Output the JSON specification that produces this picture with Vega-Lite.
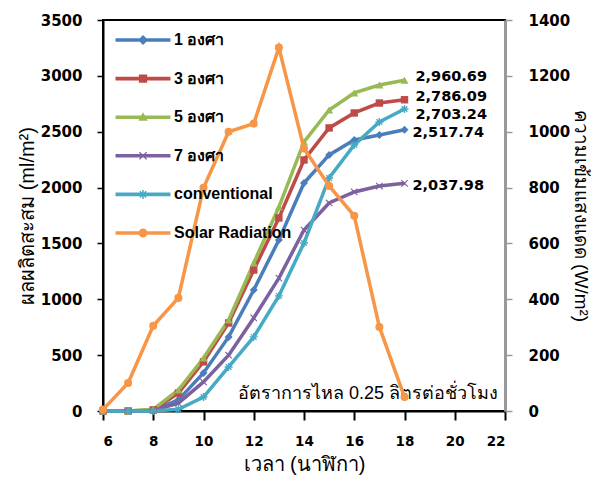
{
  "$schema": "https://vega.github.io/schema/vega-lite/v6.json",
  "width": 402,
  "height": 391,
  "autosize": "none",
  "padding": {"left": 103, "top": 20, "right": 98, "bottom": 77},
  "background": "white",
  "config": {
    "view": {"stroke": "black", "strokeWidth": 2},
    "font": "Liberation Sans, Arial, sans-serif"
  },
  "data": {
    "values": [
      {"hour": 6, "series": "1 องศา", "value": 0},
      {"hour": 7, "series": "1 องศา", "value": 0},
      {"hour": 8, "series": "1 องศา", "value": 5},
      {"hour": 9, "series": "1 องศา", "value": 100},
      {"hour": 10, "series": "1 องศา", "value": 340},
      {"hour": 11, "series": "1 องศา", "value": 663},
      {"hour": 12, "series": "1 องศา", "value": 1083},
      {"hour": 13, "series": "1 องศา", "value": 1530},
      {"hour": 14, "series": "1 องศา", "value": 2041},
      {"hour": 15, "series": "1 องศา", "value": 2292},
      {"hour": 16, "series": "1 องศา", "value": 2426},
      {"hour": 17, "series": "1 องศา", "value": 2471},
      {"hour": 18, "series": "1 องศา", "value": 2517.74},
      {"hour": 6, "series": "3 องศา", "value": 0},
      {"hour": 7, "series": "3 องศา", "value": 0},
      {"hour": 8, "series": "3 องศา", "value": 10},
      {"hour": 9, "series": "3 องศา", "value": 160},
      {"hour": 10, "series": "3 องศา", "value": 440},
      {"hour": 11, "series": "3 องศา", "value": 788},
      {"hour": 12, "series": "3 องศา", "value": 1262},
      {"hour": 13, "series": "3 องศา", "value": 1728},
      {"hour": 14, "series": "3 องศา", "value": 2247},
      {"hour": 15, "series": "3 องศา", "value": 2534},
      {"hour": 16, "series": "3 องศา", "value": 2668},
      {"hour": 17, "series": "3 องศา", "value": 2757},
      {"hour": 18, "series": "3 องศา", "value": 2786.09},
      {"hour": 6, "series": "5 องศา", "value": 0},
      {"hour": 7, "series": "5 องศา", "value": 0},
      {"hour": 8, "series": "5 องศา", "value": 15},
      {"hour": 9, "series": "5 องศา", "value": 188},
      {"hour": 10, "series": "5 องศา", "value": 474},
      {"hour": 11, "series": "5 องศา", "value": 815},
      {"hour": 12, "series": "5 องศา", "value": 1325},
      {"hour": 13, "series": "5 องศา", "value": 1826},
      {"hour": 14, "series": "5 องศา", "value": 2408},
      {"hour": 15, "series": "5 องศา", "value": 2695},
      {"hour": 16, "series": "5 องศา", "value": 2847},
      {"hour": 17, "series": "5 องศา", "value": 2918},
      {"hour": 18, "series": "5 องศา", "value": 2960.69},
      {"hour": 6, "series": "7 องศา", "value": 0},
      {"hour": 7, "series": "7 องศา", "value": 0},
      {"hour": 8, "series": "7 องศา", "value": 5},
      {"hour": 9, "series": "7 องศา", "value": 70},
      {"hour": 10, "series": "7 องศา", "value": 260},
      {"hour": 11, "series": "7 องศา", "value": 500},
      {"hour": 12, "series": "7 องศา", "value": 833},
      {"hour": 13, "series": "7 องศา", "value": 1190},
      {"hour": 14, "series": "7 องศา", "value": 1620},
      {"hour": 15, "series": "7 องศา", "value": 1862},
      {"hour": 16, "series": "7 องศา", "value": 1961},
      {"hour": 17, "series": "7 องศา", "value": 2014},
      {"hour": 18, "series": "7 องศา", "value": 2037.98},
      {"hour": 6, "series": "conventional", "value": 0},
      {"hour": 7, "series": "conventional", "value": 0},
      {"hour": 8, "series": "conventional", "value": 0},
      {"hour": 9, "series": "conventional", "value": 15},
      {"hour": 10, "series": "conventional", "value": 125},
      {"hour": 11, "series": "conventional", "value": 394},
      {"hour": 12, "series": "conventional", "value": 663},
      {"hour": 13, "series": "conventional", "value": 1030},
      {"hour": 14, "series": "conventional", "value": 1504},
      {"hour": 15, "series": "conventional", "value": 2086},
      {"hour": 16, "series": "conventional", "value": 2381},
      {"hour": 17, "series": "conventional", "value": 2587},
      {"hour": 18, "series": "conventional", "value": 2703.24},
      {"hour": 6, "series": "Solar Radiation", "value": 5},
      {"hour": 7, "series": "Solar Radiation", "value": 100},
      {"hour": 8, "series": "Solar Radiation", "value": 305},
      {"hour": 9, "series": "Solar Radiation", "value": 405},
      {"hour": 10, "series": "Solar Radiation", "value": 799},
      {"hour": 11, "series": "Solar Radiation", "value": 1000},
      {"hour": 12, "series": "Solar Radiation", "value": 1029},
      {"hour": 13, "series": "Solar Radiation", "value": 1301},
      {"hour": 14, "series": "Solar Radiation", "value": 940},
      {"hour": 15, "series": "Solar Radiation", "value": 806},
      {"hour": 16, "series": "Solar Radiation", "value": 699},
      {"hour": 17, "series": "Solar Radiation", "value": 301},
      {"hour": 18, "series": "Solar Radiation", "value": 50}
    ]
  },
  "encoding": {
    "x": {
      "field": "hour",
      "type": "quantitative",
      "scale": {"domain": [6, 22], "nice": false},
      "axis": {
        "values": [6, 8, 10, 12, 14, 16, 18, 20, 22],
        "format": "d",
        "grid": false,
        "domainColor": "black",
        "domainWidth": 2,
        "tickColor": "black",
        "tickWidth": 2,
        "tickSize": 9,
        "labelPadding": 14,
        "labelFont": "DejaVu Sans",
        "labelFontSize": 13.5,
        "labelFontWeight": "bold",
        "labelColor": "black",
        "title": "เวลา (นาฬิกา)",
        "titleFontSize": 20,
        "titleFontWeight": "normal",
        "titleColor": "black",
        "titlePadding": 7
      }
    }
  },
  "layer": [
    {
      "encoding": {
        "y": {
          "field": "value",
          "type": "quantitative",
          "scale": {"domain": [0, 3500], "nice": false},
          "axis": {
            "orient": "left",
            "values": [0, 500, 1000, 1500, 2000, 2500, 3000, 3500],
            "format": "d",
            "grid": false,
            "domainColor": "black",
            "domainWidth": 2,
            "tickColor": "black",
            "tickWidth": 1.5,
            "tickSize": 6,
            "labelPadding": 15,
            "labelFont": "DejaVu Sans",
            "labelFontSize": 15,
            "labelFontWeight": "bold",
            "labelColor": "black",
            "title": "ผลผลิตสะสม (ml/m²)",
            "titleFontSize": 20,
            "titleFontWeight": "normal",
            "titleColor": "black",
            "titlePadding": 3
          }
        }
      },
      "layer": [
        {
          "mark": {"type": "point", "filled": true, "opacity": 1, "size": 0},
          "encoding": {
            "color": {
              "field": "series",
              "type": "nominal",
              "scale": {
                "domain": ["1 องศา", "3 องศา", "5 องศา", "7 องศา", "conventional", "Solar Radiation"],
                "range": ["#4A7EBB", "#BE4B48", "#98B954", "#7D60A0", "#46AAC5", "#F79646"]
              },
              "legend": {
                "orient": "none",
                "legendX": 12,
                "legendY": 12,
                "title": null,
                "symbolSize": 225,
                "symbolStrokeWidth": 0,
                "symbolOpacity": 1,
                "labelFontSize": 16,
                "labelFontWeight": "bold",
                "labelColor": "black",
                "labelOffset": 43,
                "rowPadding": 22.6
              }
            },
            "shape": {
              "field": "series",
              "type": "nominal",
              "scale": {
                "domain": ["1 องศา", "3 องศา", "5 องศา", "7 องศา", "conventional", "Solar Radiation"],
                "range": [
                  "M-1,-0.24L6.33,-0.24L6.33,0.24L-1,0.24Z M2.67,-0.67L3.34,0L2.67,0.67L2,0Z",
                  "M-1,-0.24L6.33,-0.24L6.33,0.24L-1,0.24Z M2.12,-0.55L3.22,-0.55L3.22,0.55L2.12,0.55Z",
                  "M-1,-0.24L6.33,-0.24L6.33,0.24L-1,0.24Z M2.67,-0.67L3.3,0.47L2.04,0.47Z",
                  "M-1,-0.24L6.33,-0.24L6.33,0.24L-1,0.24Z M2.13,-0.42L2.25,-0.54L2.67,-0.12L3.09,-0.54L3.21,-0.42L2.79,0L3.21,0.42L3.09,0.54L2.67,0.12L2.25,0.54L2.13,0.42L2.55,0Z",
                  "M-1,-0.24L6.33,-0.24L6.33,0.24L-1,0.24Z M2.57,-0.6L2.77,-0.6L2.77,0.6L2.57,0.6Z M2.18,-0.35L2.32,-0.49L3.16,0.35L3.02,0.49Z M3.02,-0.49L3.16,-0.35L2.32,0.49L2.18,0.35Z",
                  "M-1,-0.24L6.33,-0.24L6.33,0.24L-1,0.24Z M3.27,0L3.19,0.3L2.97,0.52L2.67,0.6L2.37,0.52L2.15,0.3L2.07,0L2.15,-0.3L2.37,-0.52L2.67,-0.6L2.97,-0.52L3.19,-0.3Z"
                ]
              }
            }
          }
        },
        {
          "transform": [{"filter": "datum.series !== 'Solar Radiation'"}],
          "mark": {"type": "line", "strokeWidth": 3.5},
          "encoding": {
            "color": {"field": "series", "type": "nominal"}
          }
        },
        {
          "transform": [{"filter": "datum.series === '1 องศา'"}],
          "mark": {"type": "point", "filled": true, "opacity": 1, "size": 65, "shape": "diamond", "color": "#4A7EBB"},
          "encoding": {}
        },
        {
          "transform": [{"filter": "datum.series === '3 องศา'"}],
          "mark": {"type": "point", "filled": true, "opacity": 1, "size": 55, "shape": "square", "color": "#BE4B48"},
          "encoding": {}
        },
        {
          "transform": [{"filter": "datum.series === '5 องศา'"}],
          "mark": {"type": "point", "filled": true, "opacity": 1, "size": 65, "shape": "triangle-up", "color": "#98B954"},
          "encoding": {}
        },
        {
          "transform": [{"filter": "datum.series === '7 องศา'"}],
          "mark": {"type": "point", "filled": true, "opacity": 1, "size": 65, "shape": "M-0.9,-0.7L-0.7,-0.9L0,-0.2L0.7,-0.9L0.9,-0.7L0.2,0L0.9,0.7L0.7,0.9L0,0.2L-0.7,0.9L-0.9,0.7L-0.2,0Z", "color": "#7D60A0"},
          "encoding": {}
        },
        {
          "transform": [{"filter": "datum.series === 'conventional'"}],
          "mark": {"type": "point", "filled": true, "opacity": 1, "size": 65, "shape": "M-1,-0.17L1,-0.17L1,0.17L-1,0.17Z M-0.17,-1L0.17,-1L0.17,1L-0.17,1Z M-0.82,-0.58L-0.58,-0.82L0.82,0.58L0.58,0.82Z M0.58,-0.82L0.82,-0.58L-0.58,0.82L-0.82,0.58Z", "color": "#46AAC5"},
          "encoding": {}
        },
        {
          "transform": [{"filter": "datum.hour === 18 && (datum.series === '5 องศา' || datum.series === '3 องศา')"}],
          "mark": {"type": "text", "align": "left", "baseline": "middle", "dx": 11, "dy": -3, "font": "DejaVu Sans", "fontSize": 14.5, "fontWeight": "bold", "color": "black"},
          "encoding": {"text": {"field": "value", "type": "quantitative", "format": ",.2f"}}
        },
        {
          "transform": [{"filter": "datum.hour === 18 && datum.series === 'conventional'"}],
          "mark": {"type": "text", "align": "left", "baseline": "middle", "dx": 11, "dy": 6, "font": "DejaVu Sans", "fontSize": 14.5, "fontWeight": "bold", "color": "black"},
          "encoding": {"text": {"field": "value", "type": "quantitative", "format": ",.2f"}}
        },
        {
          "transform": [{"filter": "datum.hour === 18 && (datum.series === '1 องศา' || datum.series === '7 องศา')"}],
          "mark": {"type": "text", "align": "left", "baseline": "middle", "dx": 8, "dy": 3, "font": "DejaVu Sans", "fontSize": 14.5, "fontWeight": "bold", "color": "black"},
          "encoding": {"text": {"field": "value", "type": "quantitative", "format": ",.2f"}}
        },
        {
          "transform": [{"filter": "datum.hour === 6 && datum.series === '1 องศา'"}],
          "mark": {"type": "text", "align": "right", "baseline": "middle", "fontSize": 18, "fontWeight": "normal", "color": "black"},
          "encoding": {
            "x": {"datum": 21.72},
            "y": {"datum": 150},
            "text": {"value": "อัตราการไหล 0.25 ลิตรต่อชั่วโมง"}
          }
        }
      ]
    },
    {
      "transform": [{"filter": "datum.series === 'Solar Radiation'"}],
      "encoding": {
        "y": {
          "field": "value",
          "type": "quantitative",
          "scale": {"domain": [0, 1400], "nice": false},
          "axis": {
            "orient": "right",
            "values": [0, 200, 400, 600, 800, 1000, 1200, 1400],
            "format": "d",
            "grid": false,
            "domainColor": "#999999",
            "domainWidth": 3,
            "tickColor": "#999999",
            "tickWidth": 1.5,
            "tickSize": 7,
            "labelPadding": 16,
            "labelFont": "DejaVu Sans",
            "labelFontSize": 15,
            "labelFontWeight": "bold",
            "labelColor": "black",
            "title": "ความเข้มแสงแดด (W/m²)",
            "titleFontSize": 19,
            "titleFontWeight": "normal",
            "titleColor": "black",
            "titlePadding": 1
          }
        }
      },
      "layer": [
        {"mark": {"type": "line", "strokeWidth": 3.5, "color": "#F79646"}, "encoding": {}},
        {"mark": {"type": "point", "filled": true, "opacity": 1, "size": 65, "shape": "circle", "color": "#F79646"}, "encoding": {}}
      ]
    }
  ],
  "resolve": {"scale": {"y": "independent"}}
}
